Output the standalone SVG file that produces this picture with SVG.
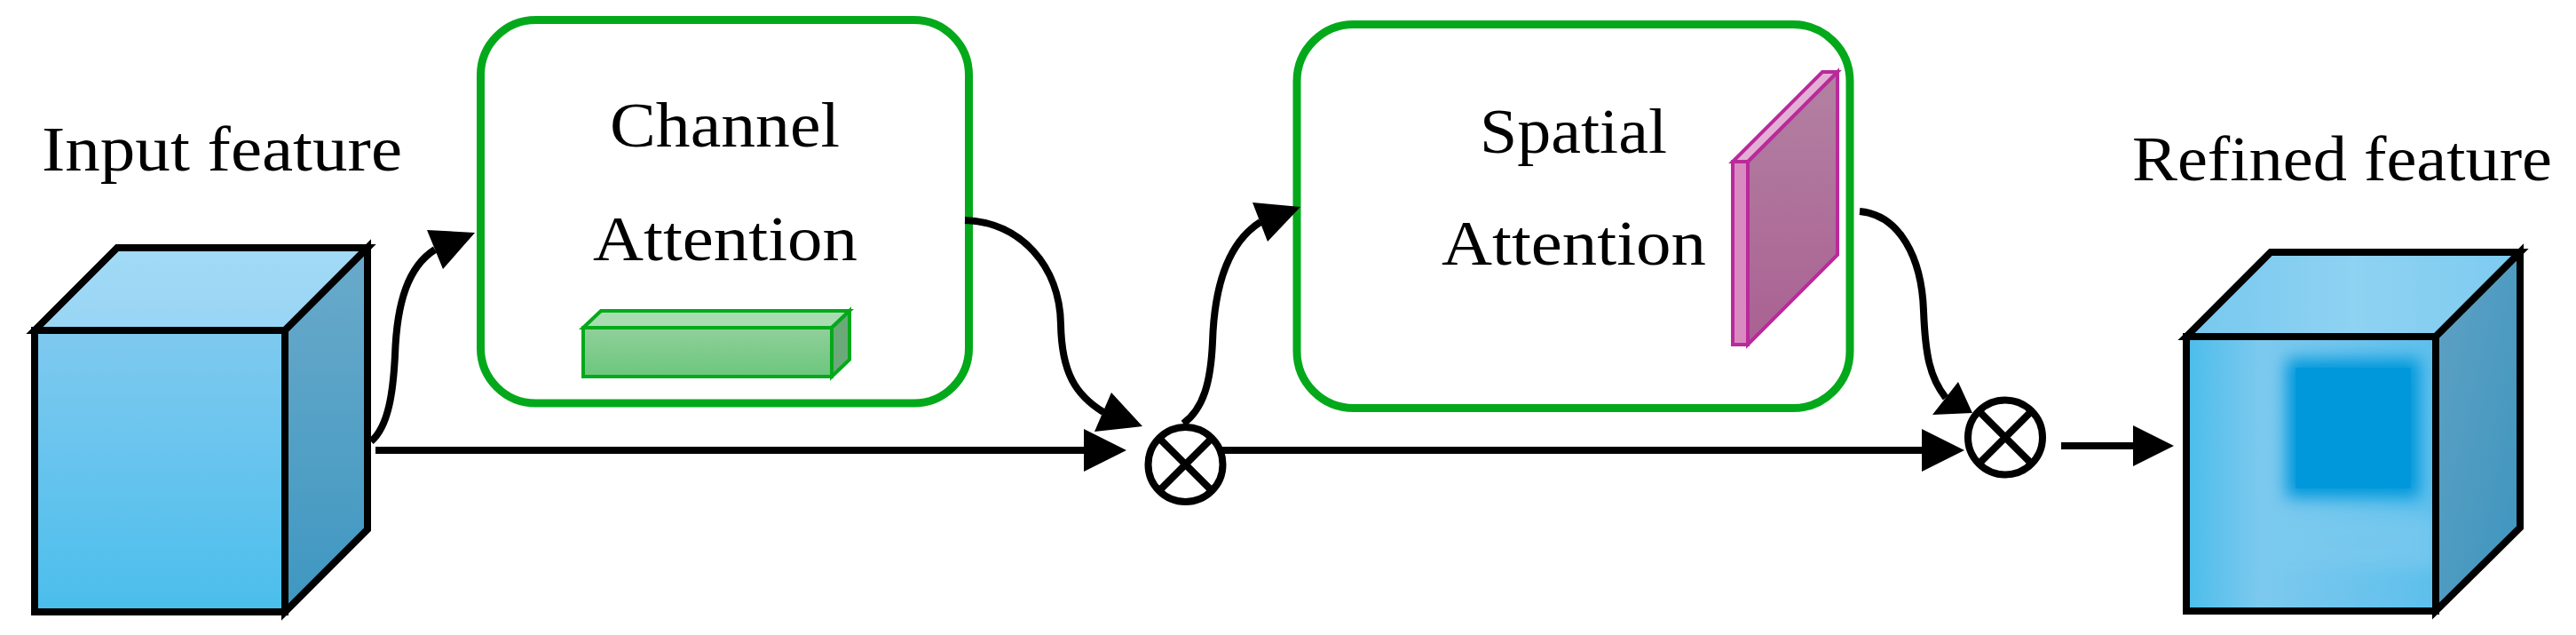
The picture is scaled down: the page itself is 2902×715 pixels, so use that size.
<svg xmlns="http://www.w3.org/2000/svg" width="2902" height="715" viewBox="0 0 2902 715">
<style>
.lbl{font-family:"Liberation Serif","Times New Roman",serif;font-size:72px;fill:#000}
.mid{text-anchor:middle}
.edge{fill:none;stroke:#000;stroke-width:8}
.ah{fill:#000;stroke:none}
.box{fill:#fff;stroke:#04a91b;stroke-width:9}
.cube{stroke:#000;stroke-width:8;stroke-linejoin:miter}
.bar{stroke:#04a91b;stroke-width:4;stroke-linejoin:miter}
.plate{stroke:#b92a9a;stroke-width:4;stroke-linejoin:miter}
.mul{fill:#fff;stroke:#000;stroke-width:8}
</style>
<defs>
<linearGradient id="gFront" x1="0" y1="0" x2="0" y2="1"><stop offset="0" stop-color="#7fc9ef"/><stop offset="1" stop-color="#4bbeec"/></linearGradient>
<linearGradient id="gTop" x1="0" y1="0" x2="0" y2="1"><stop offset="0" stop-color="#a2daf6"/><stop offset="1" stop-color="#98d5f4"/></linearGradient>
<linearGradient id="gSide" x1="0" y1="0" x2="0" y2="1"><stop offset="0" stop-color="#6aaacb"/><stop offset="1" stop-color="#3e97c1"/></linearGradient>
<linearGradient id="gRFront" x1="0" y1="0" x2="1" y2="0"><stop offset="0" stop-color="#4bbdeb"/><stop offset="0.3" stop-color="#7dc9ee"/><stop offset="1" stop-color="#5dbfec"/></linearGradient>
<linearGradient id="gRTop" x1="0" y1="0" x2="1" y2="0"><stop offset="0" stop-color="#76c8ef"/><stop offset="0.5" stop-color="#8fd2f2"/><stop offset="1" stop-color="#7ccbf0"/></linearGradient>
<linearGradient id="gRSide" x1="0" y1="0" x2="1" y2="1"><stop offset="0" stop-color="#5fa1c3"/><stop offset="1" stop-color="#3d95bf"/></linearGradient>
<linearGradient id="gBar" x1="0" y1="0" x2="0" y2="1"><stop offset="0" stop-color="#90d09a"/><stop offset="1" stop-color="#6cc67d"/></linearGradient>
<linearGradient id="gPlate" x1="0" y1="0" x2="0" y2="1"><stop offset="0" stop-color="#b381a2"/><stop offset="1" stop-color="#aa6193"/></linearGradient>
<filter id="soft" x="-30%" y="-30%" width="160%" height="160%"><feGaussianBlur stdDeviation="9"/></filter>
<clipPath id="rClip"><rect x="2463" y="379" width="281" height="309"/></clipPath>
</defs>

<g id="input-feature">
<text class="lbl" x="47" y="192" textLength="406" lengthAdjust="spacingAndGlyphs">Input feature</text>
<polygon class="cube" fill="url(#gTop)" points="39,372 132,279 414,279 321,372"/>
<polygon class="cube" fill="url(#gSide)" points="321,372 414,279 414,596 321,689"/>
<rect class="cube" fill="url(#gFront)" x="39" y="372" width="282" height="317"/>
</g>

<g id="channel-attention">
<rect class="box" x="541.5" y="22.5" width="550" height="431.5" rx="62" ry="62"/>
<text class="lbl mid" x="816.5" y="165" textLength="259" lengthAdjust="spacingAndGlyphs">Channel</text>
<text class="lbl mid" x="817" y="293" textLength="298" lengthAdjust="spacingAndGlyphs">Attention</text>
<polygon class="bar" fill="#a9dcb0" points="657,369 677,350 957,350 937,369"/>
<polygon class="bar" fill="#6aaa78" points="937,369 957,350 957,405 937,424"/>
<rect class="bar" fill="url(#gBar)" x="657" y="369" width="280" height="55"/>
</g>

<g id="spatial-attention">
<rect class="box" x="1461" y="27.5" width="623" height="432" rx="64" ry="64"/>
<text class="lbl mid" x="1772.5" y="172" textLength="211" lengthAdjust="spacingAndGlyphs">Spatial</text>
<text class="lbl mid" x="1773" y="298" textLength="298" lengthAdjust="spacingAndGlyphs">Attention</text>
<polygon class="plate" fill="url(#gPlate)" points="1969,182 2070,81 2070,287 1969,388"/>
<polygon class="plate" fill="#e3b0d5" points="1952,182 2053,81 2070,81 1969,182"/>
<rect class="plate" fill="#d98ac1" x="1952" y="182" width="17" height="206"/>
</g>

<g id="mul-1">
<circle class="mul" cx="1335.5" cy="523" r="42"/>
<path class="edge" d="M1305.8,493.3 L1365.2,552.7 M1365.2,493.3 L1305.8,552.7"/>
</g>

<g id="mul-2">
<circle class="mul" cx="2259" cy="492.5" r="42"/>
<path class="edge" d="M2229.3,462.8 L2288.7,522.2 M2288.7,462.8 L2229.3,522.2"/>
</g>

<g id="refined-feature">
<text class="lbl" x="2402" y="203" textLength="473" lengthAdjust="spacingAndGlyphs">Refined feature</text>
<polygon class="cube" fill="url(#gRTop)" points="2463,379 2558,284 2839,284 2744,379"/>
<polygon class="cube" fill="url(#gRSide)" points="2744,379 2839,284 2839,594 2744,688"/>
<rect fill="url(#gRFront)" x="2463" y="379" width="281" height="309"/>
<g clip-path="url(#rClip)">
<rect x="2550" y="580" width="194" height="60" fill="#7ccaef" filter="url(#soft)" opacity="0.7"/>
<rect x="2576" y="404" width="150" height="156" fill="#0098db" filter="url(#soft)"/>
<rect x="2586" y="414" width="130" height="136" fill="#0098db"/>
</g>
<rect class="cube" fill="none" x="2463" y="379" width="281" height="309"/>
</g>

<g id="connectors">
<path class="edge" d="M418,497 C438,480 443,440 445,400 C447,340 460,300 490,281"/>
<polygon class="ah" points="535,262 481,259 499,303"/>
<path class="edge" d="M423,507 L1225,507"/>
<polygon class="ah" points="1269,507 1221,483 1221,531"/>
<path class="edge" d="M1087,248 C1150,250 1194,300 1195,365 C1196,420 1212,445 1243,464"/>
<polygon class="ah" points="1287,480 1233,486 1252,442"/>
<path class="edge" d="M1333,477 C1356,460 1364,430 1366,385 C1368,320 1385,272 1420,250"/>
<polygon class="ah" points="1465,233 1411,228 1428,272"/>
<path class="edge" d="M1377,507 L2168,507"/>
<polygon class="ah" points="2213,507 2165,483 2165,531"/>
<path class="edge" d="M2095,238 C2140,242 2165,290 2167,350 C2169,400 2174,425 2192,448"/>
<polygon class="ah" points="2222,465 2177,467 2206,430"/>
<path class="edge" d="M2322,502 L2406,502"/>
<polygon class="ah" points="2449,502 2403,479 2403,525"/>
</g>
</svg>
